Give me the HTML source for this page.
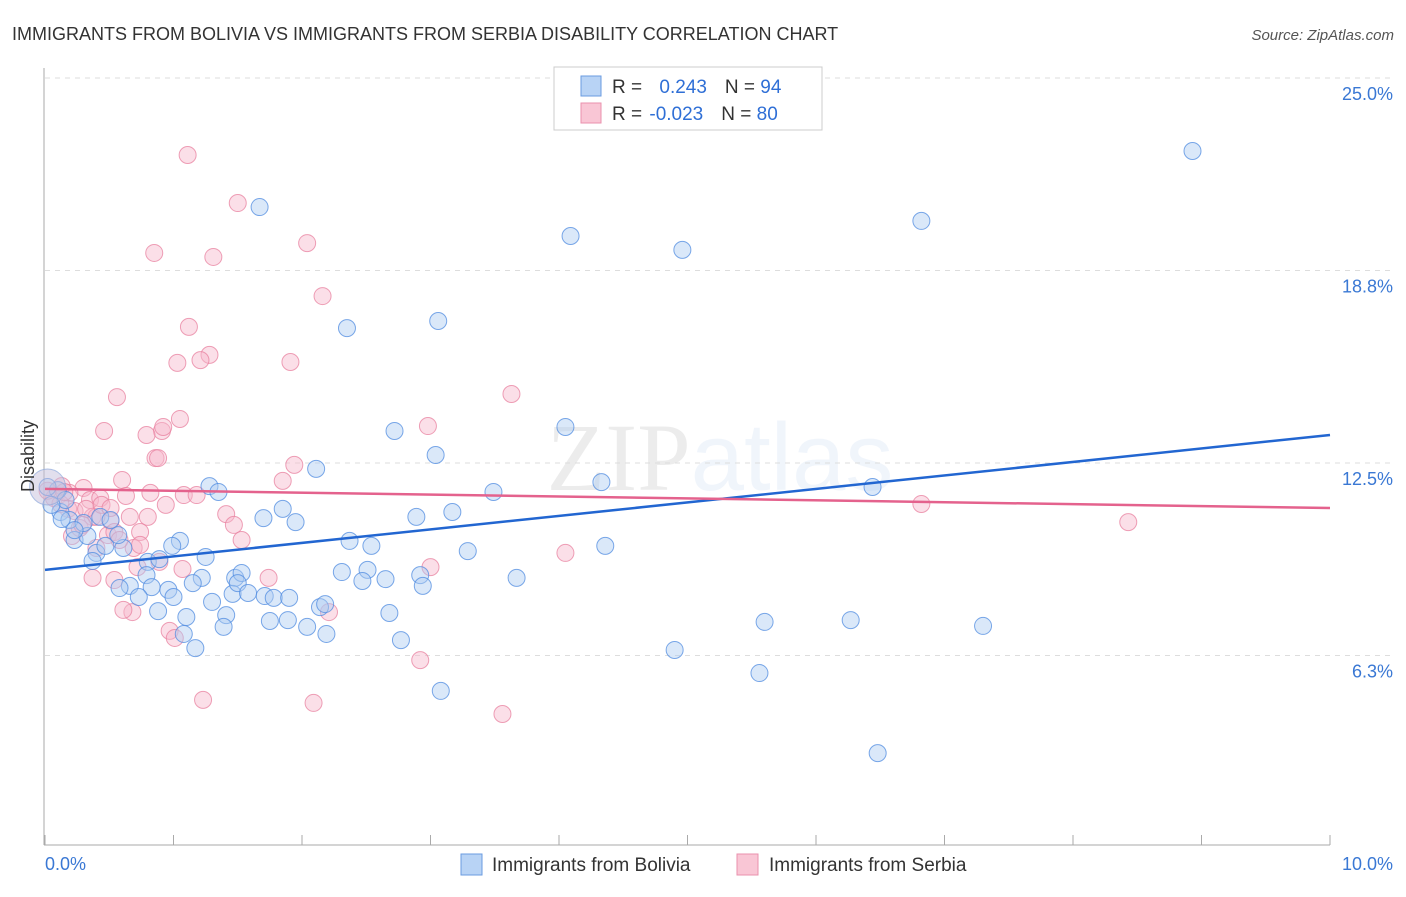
<!DOCTYPE html>
<html><head><meta charset="utf-8"><style>
body{margin:0;background:#fff;font-family:"Liberation Sans",sans-serif}
</style></head><body>
<svg id="chart" width="1406" height="892" xmlns="http://www.w3.org/2000/svg" font-family="Liberation Sans, sans-serif">
<text x="12" y="40" font-size="18" fill="#333">IMMIGRANTS FROM BOLIVIA VS IMMIGRANTS FROM SERBIA DISABILITY CORRELATION CHART</text>
<text x="1394" y="40" font-size="15" fill="#555" text-anchor="end" font-style="italic">Source: ZipAtlas.com</text>
<text x="720" y="490" font-size="96" fill="#000" opacity="0.07" text-anchor="middle" font-family="Liberation Serif, serif">ZIP<tspan fill="#3a7bd5" opacity="1.8" font-family="Liberation Sans, sans-serif">atlas</tspan></text>
<g id="grid"></g><g id="axes"></g><g id="marks"></g><g id="lines"></g>
<text transform="translate(34,456) rotate(-90)" font-size="18" fill="#333" text-anchor="middle">Disability</text>
<g>
<rect x="554" y="67" width="268" height="63" fill="#fff" stroke="#ccc"/>
<rect x="581" y="76" width="20" height="20" fill="#b8d3f5" stroke="#6a9be0"/>
<rect x="581" y="103" width="20" height="20" fill="#f9c6d5" stroke="#ea90ad"/>
<text x="612" y="93" font-size="19" fill="#333">R = <tspan fill="#2f6fd6" dx="12">0.243</tspan><tspan dx="18" fill="#333">N = </tspan><tspan fill="#2f6fd6">94</tspan></text>
<text x="612" y="120" font-size="19" fill="#333">R = <tspan fill="#2f6fd6" dx="2">-0.023</tspan><tspan dx="18" fill="#333">N = </tspan><tspan fill="#2f6fd6">80</tspan></text>
</g>
<g>
<rect x="461" y="854" width="21" height="21" fill="#b8d3f5" stroke="#6a9be0"/>
<text x="492" y="871" font-size="19" fill="#333">Immigrants from Bolivia</text>
<rect x="737" y="854" width="21" height="21" fill="#f9c6d5" stroke="#ea90ad"/>
<text x="769" y="871" font-size="19" fill="#333">Immigrants from Serbia</text>
</g>
</svg>
<script>
const yTicks=[6.25,12.5,18.75,25];
const yTickLabels=["6.3%","12.5%","18.8%","25.0%"];
const xTickLabels=["0.0%","10.0%"];
const boliviaX=[8.93,6.82,4.09,4.96,1.67,2.35,3.06,2.72,4.05,3.04,2.11,1.28,1.35,3.49,4.33,6.44,1.70,1.95,1.85,2.89,3.17,2.37,2.54,3.29,4.36,1.05,0.99,1.25,0.40,0.47,0.61,0.37,0.80,0.89,2.31,2.51,2.47,2.65,3.67,2.92,2.94,1.48,1.53,1.22,1.15,0.79,0.66,0.58,0.83,0.96,1.00,1.30,1.46,1.50,1.58,1.71,1.78,1.90,2.14,2.18,2.68,0.73,0.88,1.10,1.41,1.75,1.89,1.39,2.04,2.19,1.08,1.17,2.77,3.08,4.90,5.60,6.27,7.30,5.56,6.48,0.10,0.12,0.16,0.05,0.19,0.23,0.33,0.43,0.51,0.57,0.30,0.02,0.13,0.23];
const boliviaY=[22.63,20.36,19.87,19.42,20.81,16.88,17.11,13.54,13.67,12.76,12.31,11.75,11.56,11.56,11.88,11.72,10.71,10.58,11.01,10.75,10.91,9.97,9.81,9.64,9.81,9.97,9.81,9.45,9.58,9.81,9.74,9.32,9.29,9.38,8.96,9.03,8.67,8.73,8.77,8.86,8.51,8.77,8.93,8.77,8.60,8.86,8.51,8.44,8.47,8.38,8.15,7.99,8.25,8.60,8.28,8.18,8.12,8.12,7.82,7.92,7.63,8.15,7.69,7.50,7.56,7.37,7.40,7.18,7.18,6.95,6.95,6.49,6.75,5.10,6.43,7.34,7.40,7.21,5.68,3.08,11.62,10.91,11.30,11.14,10.65,10.00,10.13,10.75,10.65,10.16,10.55,11.72,10.68,10.32];
const serbiaX=[1.11,1.50,1.31,0.85,2.04,2.16,1.12,1.28,1.21,1.03,1.91,0.56,1.05,0.91,0.79,0.46,0.92,3.63,2.98,0.86,0.88,1.94,1.85,0.60,0.30,0.19,0.07,0.35,0.43,0.63,0.82,1.08,1.18,0.37,0.51,0.66,0.80,0.94,1.41,1.47,1.53,0.21,0.27,0.40,0.49,0.54,0.74,0.69,0.37,0.54,0.72,0.89,0.68,0.61,1.07,1.74,3.00,4.05,6.82,8.43,0.97,1.01,2.21,2.92,1.23,2.09,3.56,0.13,0.18,0.12,0.23,0.32,0.44,0.15,0.58,0.74,0.51,0.40,0.29,0.02];
const serbiaY=[22.50,20.94,19.19,19.32,19.64,17.92,16.92,16.01,15.84,15.75,15.78,14.64,13.93,13.54,13.41,13.54,13.67,14.74,13.70,12.66,12.66,12.44,11.92,11.95,11.69,11.53,11.36,11.30,11.36,11.43,11.53,11.46,11.46,10.75,10.62,10.75,10.75,11.14,10.84,10.49,10.00,10.13,10.39,10.75,10.16,10.26,10.26,9.74,8.77,8.70,9.12,9.29,7.66,7.73,9.06,8.77,9.12,9.58,11.17,10.58,7.05,6.82,7.66,6.10,4.81,4.71,4.35,11.75,11.01,11.17,10.94,11.01,11.14,11.56,10.00,9.84,11.04,9.74,10.49,11.6];
const trendBolivia=[9.03,13.41];
const trendSerbia=[11.66,11.04];
const NS="http://www.w3.org/2000/svg";
const X=v=>45+v*128.5, Y=v=>848-v*30.8;
function mk(t,a,p){const e=document.createElementNS(NS,t);for(const k in a)e.setAttribute(k,a[k]);p.appendChild(e);return e;}
const grid=document.getElementById('grid'),axes=document.getElementById('axes'),marks=document.getElementById('marks'),lines=document.getElementById('lines');
yTicks.forEach((t,i)=>{
 const l=mk('line',{x1:45,x2:1395,y1:Y(t),y2:Y(t),stroke:'#ddd','stroke-dasharray':'5,5'},grid);
 
 
 const tx=mk('text',{x:1393,y:Y(t)+22,'font-size':18,fill:'#3a78d4','text-anchor':'end'},axes);
 tx.textContent=yTickLabels[i];
 
 
});
const ax=mk('line',{x1:44,x2:44,y1:68,y2:845,stroke:'#aaa'},axes);


const bx=mk('line',{x1:44,x2:1330,y1:845,y2:845,stroke:'#aaa'},axes);


for(let i=0;i<=10;i++){
 const t=mk('line',{x1:X(i),x2:X(i),y1:835,y2:845,stroke:'#aaa'},axes);
 
 
}
[[0,'start',45],[10,'end',1393]].forEach((d,i)=>{
 const tx=mk('text',{x:d[2],y:870,'font-size':18,fill:'#3a78d4','text-anchor':d[1]},axes);
 tx.textContent=xTickLabels[i];
 
 
});
function pts(xs,ys,fill,stroke,name){
 xs.forEach((x,i)=>{
  const c=mk('circle',{cx:X(x),cy:Y(ys[i]),r:8.5,fill:fill,'fill-opacity':0.45,stroke:stroke,'stroke-opacity':0.75,'stroke-width':1},marks);
  
  
 });
}
pts(serbiaX,serbiaY,'#f7b8cb','#e8809f','serbia-point');
pts(boliviaX,boliviaY,'#aecbf2','#4f8be0','bolivia-point');
const big=mk('circle',{cx:X(0.02),cy:Y(11.72),r:18,fill:'#c6bfdc','fill-opacity':0.5,stroke:'#8ea9dc','stroke-opacity':0.7},marks);


const tb=mk('line',{x1:X(0),y1:Y(trendBolivia[0]),x2:X(10),y2:Y(trendBolivia[1]),stroke:'#2266d1','stroke-width':2.5},lines);


const ts=mk('line',{x1:X(0),y1:Y(trendSerbia[0]),x2:X(10),y2:Y(trendSerbia[1]),stroke:'#e4628d','stroke-width':2.5},lines);


</script>
</body></html>
